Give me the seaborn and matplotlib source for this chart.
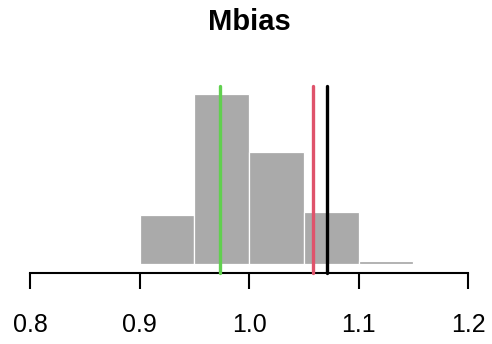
import matplotlib
matplotlib.use("Agg")
import matplotlib.pyplot as plt
import seaborn as sns
import numpy as np

# data
bin_edges = [0.90, 0.95, 1.00, 1.05, 1.10, 1.15]
counts = [17, 59, 39, 18, 1.2]
line_values = [0.9735, 1.0582, 1.0712]
line_colors = ["#61D04F", "#DF536B", "#000000"]
xticks = [0.8, 0.9, 1.0, 1.1, 1.2]
xtick_labels = ["0.8", "0.9", "1.0", "1.1", "1.2"]
title = "Mbias"

sns.set_style("white")
plt.rcParams['font.family'] = ['Liberation Sans', 'DejaVu Sans']
plt.rcParams['text.color'] = 'black'
plt.rcParams['xtick.color'] = 'black'

W, H = 492, 344
fig = plt.figure(figsize=(W / 100, H / 100), dpi=100)
left, right = 30, 468
top, bottom = 86, 264
ax = fig.add_axes([left / W, (H - bottom) / H, (right - left) / W, (bottom - top) / H])

centers = [(a + b) / 2 for a, b in zip(bin_edges[:-1], bin_edges[1:])]
sns.histplot(x=centers, weights=counts, bins=bin_edges, ax=ax,
             color="#AAAAAA", alpha=1, edgecolor="white", linewidth=0.9)

ax.set_xlim(0.8, 1.2)
ymax = max(counts) * (bottom - top) / 170
ax.set_ylim(0, ymax)

for v, c in zip(line_values, line_colors):
    ax.axvline(v, ymin=-9 / (bottom - top), ymax=1, color=c, lw=2.4, clip_on=False, zorder=5)

for s in ["top", "right", "left"]:
    ax.spines[s].set_visible(False)
ax.spines["bottom"].set_position(("outward", 9 * 0.72))
ax.spines["bottom"].set_linewidth(1.5)
ax.spines["bottom"].set_color("black")
ax.set_yticks([])
ax.set_ylabel("")
ax.set_xlabel("")
ax.set_xticks(xticks)
ax.set_xticklabels(xtick_labels, fontsize=18, color="black")
ax.tick_params(axis="x", length=16 * 0.72, width=1.5, color="black", pad=17, bottom=True)

fig.text(249 / W, 1 - 22 / H, title, ha="center", va="center", fontsize=21,
         fontweight="bold", color="black")

fig.savefig("out.png", dpi=100)
